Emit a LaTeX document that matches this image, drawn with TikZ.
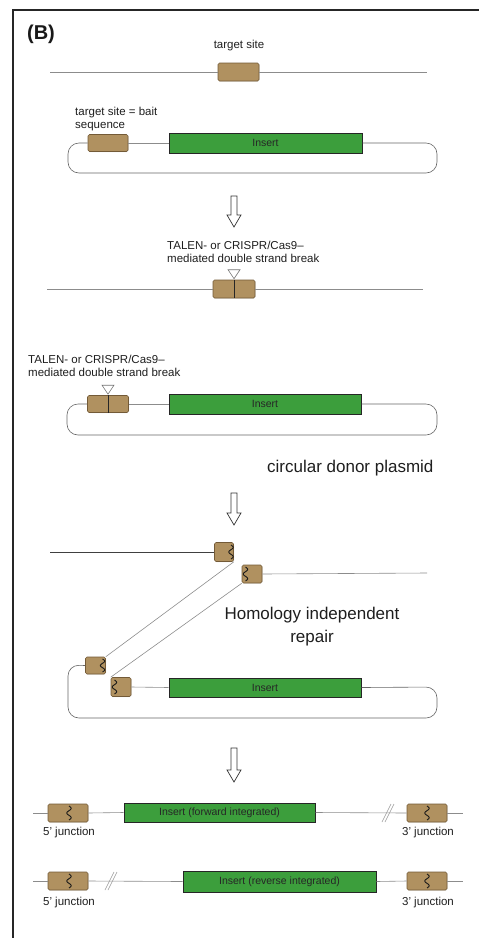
\documentclass[tikz,border=0pt]{standalone}
\usepackage{fontspec}
\setmainfont{Liberation Sans}
\usetikzlibrary{calc,shadows}
\definecolor{bait}{RGB}{176,145,96}
\definecolor{baitedge}{RGB}{115,90,55}
\definecolor{ins}{RGB}{60,158,60}
\definecolor{txt}{RGB}{30,30,30}
\tikzset{
  baitbox/.style={draw=baitedge, fill=bait, rounded corners=1.5pt, inner sep=0pt, line width=0.6pt,
     drop shadow={opacity=0.25, shadow xshift=0.6pt, shadow yshift=-0.6pt}},
  insbox/.style={draw=black!85, fill=ins, inner sep=0pt, line width=1pt, font=\fontsize{10.5}{12}\selectfont, text=black!85,
     drop shadow={opacity=0.3, shadow xshift=0.8pt, shadow yshift=-0.8pt}},
  dna/.style={draw=black!45, line width=0.6pt},
  dnadark/.style={draw=black!75, line width=0.6pt},
  loopline/.style={draw=black!60, line width=0.6pt, rounded corners=11pt},
  lbl/.style={inner sep=0pt, text=txt, font=\fontsize{11.5}{13}\selectfont},
  biglbl/.style={inner sep=0pt, text=txt, font=\fontsize{17}{23}\selectfont},
  harrow/.style={draw=black!80, fill=white, line width=0.7pt, line join=miter},
  cuttri/.style={draw=black!55, fill=white, line width=0.6pt},
  wave/.style={draw=black!90, line width=0.9pt},
  cutline/.style={draw=black!85, line width=1pt},
  slashes/.style={draw=black!40, line width=0.6pt},
}
\newcommand\hollowarr[3]{%
  \draw[harrow] ({#1-3},#2) -- ({#1+3},#2) -- ({#1+3},{#3-12}) -- ({#1+7},{#3-12}) -- (#1,#3)
     -- ({#1-7},{#3-12}) -- ({#1-3},{#3-12}) -- cycle;}
\newcommand\wavyat[3]{% x, ytop, ybottom
  \draw[wave] plot[domain=0:1, samples=25, smooth] ({#1+2.2*sin(540*\x)}, {#2+(#3-#2)*\x});}
\newcommand\dslash[2]{% x, y
  \draw[slashes] ({#1-6},{#2+9}) -- ({#1+3},{#2-9});
  \draw[slashes] ({#1-3},{#2+9}) -- ({#1+6},{#2-9});}
\begin{document}
\begin{tikzpicture}[x=1pt,y=-1pt]
\useasboundingbox (0,0) rectangle (479,938);
% frame
\draw[black!85, line width=1.3pt] (13,938) -- (13,10) -- (479,10);
\node[inner sep=0pt, font=\fontsize{20}{22}\selectfont\bfseries, text=black!90] (lab) at (41,34) {(B)};

% ---- row 1: genomic target site
\node[lbl] (ts) at (239,46) {target site};
\coordinate (l1a) at (50,72);
\coordinate (l1b) at (427,72);
\node[baitbox, minimum width=41pt, minimum height=18pt] (t1) at (238.5,72) {};
\draw[dna] (l1a) -- (t1.west);
\draw[dna] (t1.east) -- (l1b);

% ---- plasmid 1
\node[lbl, align=left, anchor=north west] (bs) at (75,107) {target site = bait\\sequence};
\node[baitbox, minimum width=40pt, minimum height=17pt] (b1) at (108,143) {};
\node[insbox, minimum width=193pt, minimum height=20pt] (g1) at (265.5,143) {Insert};
\coordinate (p1l) at (68,143);
\coordinate (p1r) at (437,143);
\coordinate (p1bl) at (68,173);
\coordinate (p1br) at (437,173);
\draw[dna] (b1.east) -- (g1.west);
\draw[loopline] (b1.west) -- (p1l) -- (p1bl) -- (p1br) -- (p1r) -- (g1.east);

\hollowarr{234}{196}{227}

% ---- row 2: cut genomic site
\node[lbl, align=left, anchor=west] (tal1) at (167,251.5) {TALEN- or CRISPR/Cas9–\\mediated double strand break};
\coordinate (l2a) at (47,289);
\coordinate (l2b) at (423,289);
\node[baitbox, minimum width=42pt, minimum height=18pt] (t2) at (234,289) {};
\draw[dna] (l2a) -- (t2.west);
\draw[dna] (t2.east) -- (l2b);
\draw[cutline] (t2.north) -- (t2.south);
\draw[cuttri] ($(t2.north)+(-6,-10)$) -- ($(t2.north)+(6,-10)$) -- ($(t2.north)+(0,-1)$) -- cycle;

% ---- plasmid 2
\node[lbl, align=left, anchor=west] (tal2) at (28,366) {TALEN- or CRISPR/Cas9–\\mediated double strand break};
\node[baitbox, minimum width=41pt, minimum height=17pt] (b2) at (108,404) {};
\node[insbox, minimum width=192pt, minimum height=20pt] (g2) at (265,404) {Insert};
\draw[cutline] (b2.north) -- (b2.south);
\draw[cuttri] ($(b2.north)+(-6,-10)$) -- ($(b2.north)+(6,-10)$) -- ($(b2.north)+(0,-1)$) -- cycle;
\coordinate (p2l) at (67,404);
\coordinate (p2r) at (437,404);
\coordinate (p2bl) at (67,435);
\coordinate (p2br) at (437,435);
\draw[dna] (b2.east) -- (g2.west);
\draw[loopline] (b2.west) -- (p2l) -- (p2bl) -- (p2br) -- (p2r) -- (g2.east);
\node[biglbl, anchor=west] (cdp) at (267,468) {circular donor plasmid};

\hollowarr{234}{493}{525}

% ---- homology independent repair
\coordinate (h1a) at (50,552);
\coordinate (h1b) at (427,573);
\node[baitbox, minimum width=19pt, minimum height=19pt] (hA) at (224,552) {};
\node[baitbox, minimum width=20pt, minimum height=18pt] (hB) at (252,574) {};
\node[baitbox, minimum width=20pt, minimum height=17pt] (hC) at (95.5,665.5) {};
\node[baitbox, minimum width=20pt, minimum height=19pt] (hD) at (121,687) {};
\node[insbox, minimum width=192pt, minimum height=19pt] (g3) at (265,687.5) {Insert};
\wavyat{231}{545}{559}
\wavyat{245.5}{567}{581}
\wavyat{102.5}{659}{672}
\wavyat{114.5}{680}{694}
\draw[dnadark] (h1a) -- (hA.west);
\draw[dna] (hB.east) -- (h1b);
\draw[dna] (hA.south east) -- (hC.north east);
\draw[dna] (hB.south west) -- (hD.north west);
\coordinate (p3l) at (68,665);
\coordinate (p3r) at (437,687);
\coordinate (p3bl) at (68,718);
\coordinate (p3br) at (437,718);
\draw[dna] (hD.east) -- (g3.west);
\draw[loopline] (hC.west) -- (p3l) -- (p3bl) -- (p3br) -- (p3r) -- (g3.east);
\node[biglbl, align=center] (hir) at (312,626.5) {Homology independent\\repair};

\hollowarr{234}{748}{782}

% ---- forward integration
\coordinate (r1a) at (33,813);
\coordinate (r1b) at (463,813);
\node[baitbox, minimum width=40pt, minimum height=18pt] (f5) at (68,813) {};
\node[insbox, minimum width=191pt, minimum height=19pt] (g4) at (219.5,812.5) {Insert (forward integrated)};
\node[baitbox, minimum width=40pt, minimum height=18pt] (f3) at (427,813) {};
\wavyat{69}{806}{820}
\wavyat{427}{806}{820}
\draw[dna] (r1a) -- (f5.west);
\draw[dna] (f5.east) -- (g4.west);
\draw[dna] (g4.east) -- (f3.west);
\draw[dna] (f3.east) -- (r1b);
\dslash{388}{813}
\node[lbl] (f5l) at (69,833) {5' junction};
\node[lbl] (f3l) at (428,833) {3' junction};

% ---- reverse integration
\coordinate (r2a) at (33,881);
\coordinate (r2b) at (463,881);
\node[baitbox, minimum width=40pt, minimum height=18pt] (v5) at (68,881) {};
\node[insbox, minimum width=193pt, minimum height=21pt] (g5) at (279.5,881.5) {Insert (reverse integrated)};
\node[baitbox, minimum width=40pt, minimum height=18pt] (v3) at (427,881) {};
\wavyat{69}{874}{888}
\wavyat{427}{874}{888}
\draw[dna] (r2a) -- (v5.west);
\draw[dna] (v5.east) -- (g5.west);
\draw[dna] (g5.east) -- (v3.west);
\draw[dna] (v3.east) -- (r2b);
\dslash{111}{881}
\node[lbl] (v5l) at (69,903) {5' junction};
\node[lbl] (v3l) at (428,903) {3' junction};
\end{tikzpicture}
\end{document}
